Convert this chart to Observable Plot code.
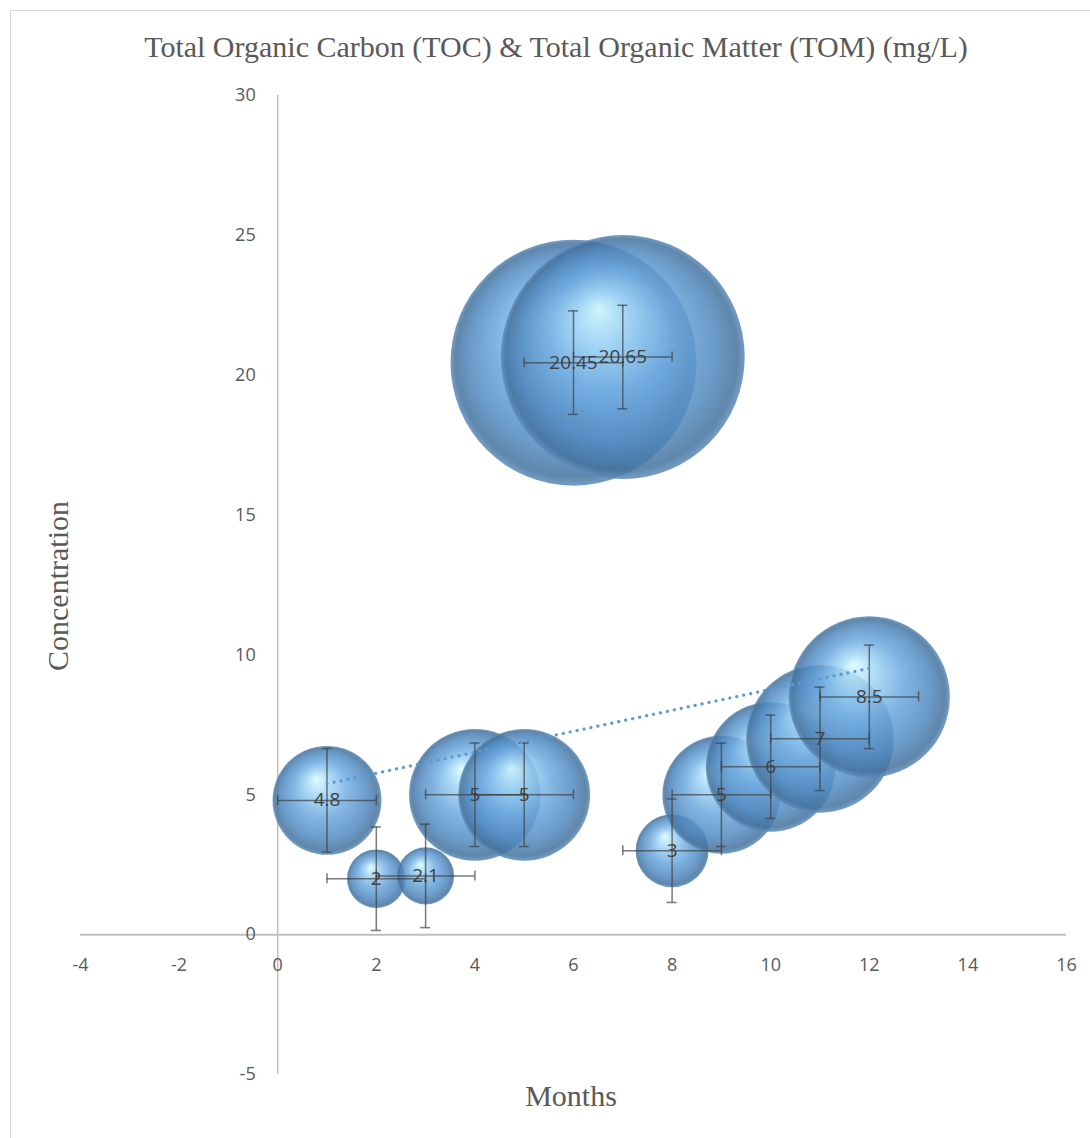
<!DOCTYPE html>
<html><head><meta charset="utf-8">
<script src="https://cdn.jsdelivr.net/npm/d3@7"></script>
<script src="https://cdn.jsdelivr.net/npm/@observablehq/plot@0.6"></script>
<style>
body{margin:0;background:#fff;}
#wrap{position:relative;width:1090px;height:1138px;overflow:hidden;background:#fff;}
#frame{position:absolute;left:10px;top:10px;width:1200px;height:1200px;border-left:1.5px solid #d9d9d9;border-top:1.5px solid #d9d9d9;}
#chart{position:absolute;left:0;top:0;}
.t{position:absolute;font-family:"Liberation Serif","Times New Roman",serif;font-size:30px;line-height:30px;color:#595959;white-space:nowrap;}
</style></head><body>
<div id="wrap">
<div id="frame"></div>
<div id="chart"></div>
<div class="t" id="title" style="left:556px;top:32px;transform:translateX(-50%);">Total Organic Carbon (TOC) &amp; Total Organic Matter (TOM) (mg/L)</div>
<div class="t" id="ylab" style="left:58px;top:586px;transform:translate(-50%,-50%) rotate(-90deg);">Concentration</div>
<div class="t" id="xlab" style="left:571px;top:1081px;transform:translateX(-50%);">Months</div>
</div>
<script>
const months = [1,2,3,4,5,6,7,8,9,10,11,12];
const concentration = [4.8,2,2.1,5,5,20.45,20.65,3,5,6,7,8.5];
const bubbleSize = [6.9,2.0,1.9,10.1,10.1,35.2,34.6,3.1,8.1,9.8,12.7,15.1];
const xTicks = [-4,-2,0,2,4,6,8,10,12,14,16];
const yTicks = [-5,0,5,10,15,20,25,30];
const xError = 1;
const yError = 1.85;

const data = months.map((m,i)=>({month:m, conc:concentration[i], size:bubbleSize[i], label:String(concentration[i])}));

const tickFont = {fill:"#595959", fontSize:18, fontFamily:"Open Sans"};
const errStyle = {stroke:"#404040", strokeWidth:1.5, strokeOpacity:0.7};

const svg = Plot.plot({
  width:1090, height:1138,
  marginLeft:80, marginRight:24, marginTop:95, marginBottom:64,
  style:{background:"transparent"},
  x:{domain:[-4,16], axis:null},
  y:{domain:[-5,30], axis:null},
  r:{domain:[0,35.2], range:[0,123]},
  marks:[
    Plot.ruleY([0], {stroke:"#bfbfbf", strokeWidth:2}),
    Plot.ruleX([0], {stroke:"#bfbfbf", strokeWidth:1.5}),
    Plot.text(xTicks, {x:d=>d, y:d=>0, dy:31, text:d=>String(d), ...tickFont}),
    Plot.text(yTicks, {x:d=>0, y:d=>d, dx:-22, textAnchor:"end", text:d=>String(d), ...tickFont}),
    Plot.dot(data, {x:"month", y:"conc", r:"size", fill:"#5b9bd5", fillOpacity:0.85, sort:null}),
    // vertical error bars
    Plot.ruleX(data, {x:"month", y1:d=>d.conc-yError, y2:d=>d.conc+yError, ...errStyle}),
    Plot.ruleY(data, {y:d=>d.conc-yError, x1:"month", x2:"month", insetLeft:-5, insetRight:-5, ...errStyle}),
    Plot.ruleY(data, {y:d=>d.conc+yError, x1:"month", x2:"month", insetLeft:-5, insetRight:-5, ...errStyle}),
    // horizontal error bars
    Plot.ruleY(data, {y:"conc", x1:d=>d.month-xError, x2:d=>d.month+xError, ...errStyle}),
    Plot.ruleX(data, {x:d=>d.month-xError, y1:"conc", y2:"conc", insetTop:-5, insetBottom:-5, ...errStyle}),
    Plot.ruleX(data, {x:d=>d.month+xError, y1:"conc", y2:"conc", insetTop:-5, insetBottom:-5, ...errStyle}),
    Plot.linearRegressionY(data, {x:"month", y:"conc", ci:0, stroke:"#5b9bd5", strokeWidth:3.2, strokeDasharray:"0.1 7", strokeLinecap:"round"}),
    Plot.text(data, {x:"month", y:"conc", text:"label", fontSize:19, fontFamily:"Open Sans", fill:"#404040"})
  ]
});

const ns = "http://www.w3.org/2000/svg";
const defs = document.createElementNS(ns, "defs");
defs.innerHTML = `
<radialGradient id="bub" cx="0.5" cy="0.5" r="0.5" fx="0.4" fy="0.3">
  <stop offset="0" stop-color="#d8fcff"/>
  <stop offset="0.22" stop-color="#a3d6f6"/>
  <stop offset="0.5" stop-color="#6fabe0"/>
  <stop offset="0.8" stop-color="#5189bf"/>
  <stop offset="0.95" stop-color="#44719c"/>
  <stop offset="1" stop-color="#5d8cbb"/>
</radialGradient>`;
svg.insertBefore(defs, svg.firstChild);
d3.select(svg).selectAll('g[aria-label="dot"] circle').attr("fill","url(#bub)");
document.getElementById("chart").appendChild(svg);
</script>
</body></html>
